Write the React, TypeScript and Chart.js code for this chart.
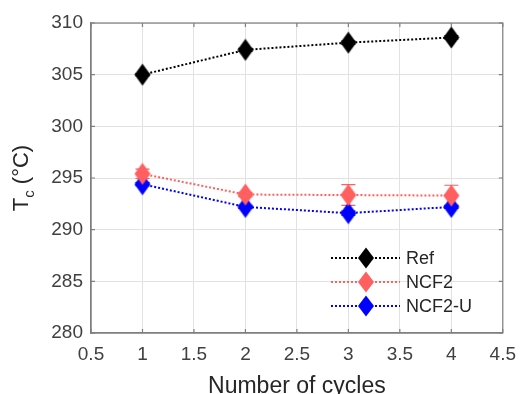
import React, { useEffect, useRef } from "react";
import { Chart, registerables } from "chart.js";

Chart.register(...registerables);

const cycles = [1, 2, 3, 4];
const refValues = [305.0, 307.4, 308.1, 308.6];
const ncf2Values = [295.4, 293.4, 293.35, 293.3];
const ncf2uValues = [294.4, 292.2, 291.6, 292.2];
const refErr = [0.1, 0.15, 0.15, 0.15];
const ncf2Err = [0.45, 0.2, 1.0, 1.0];
const ncf2uErr = [0.15, 0.15, 0.2, 0.15];
const seriesNames = ["Ref", "NCF2", "NCF2-U"];
const seriesColors = ["#000000", "#ff5f5f", "#0000ff"];
const xTickValues = [0.5, 1, 1.5, 2, 2.5, 3, 3.5, 4, 4.5];
const yTickValues = [280, 285, 290, 295, 300, 305, 310];
const xTitle = "Number of cycles";

const FONT = "'Liberation Sans', Arial, Helvetica, sans-serif";
const TEXT = "#404040";
const AXIS = "#7f7f7f";

const errorsFor = [refErr, ncf2Err, ncf2uErr];

const decorPlugin = {
  id: "decor",
  beforeDatasetsDraw(chart: any) {
    const ctx = chart.ctx;
    const xs = chart.scales.x;
    const ys = chart.scales.y;
    ctx.save();
    chart.data.datasets.forEach((ds: any, i: number) => {
      const errs = errorsFor[i];
      ctx.strokeStyle = ds.borderColor;
      ctx.lineWidth = 1.2;
      ds.data.forEach((p: any, j: number) => {
        const px = xs.getPixelForValue(p.x);
        const top = ys.getPixelForValue(p.y + errs[j]);
        const bot = ys.getPixelForValue(p.y - errs[j]);
        ctx.beginPath();
        ctx.moveTo(px, top);
        ctx.lineTo(px, bot);
        ctx.moveTo(px - 7, top);
        ctx.lineTo(px + 7, top);
        ctx.moveTo(px - 7, bot);
        ctx.lineTo(px + 7, bot);
        ctx.stroke();
      });
    });
    ctx.restore();
  },
  afterDraw(chart: any) {
    const ctx = chart.ctx;
    const a = chart.chartArea;
    const xs = chart.scales.x;
    const ys = chart.scales.y;
    ctx.save();
    ctx.strokeStyle = AXIS;
    ctx.lineWidth = 1.2;
    ctx.strokeRect(a.left, a.top, a.right - a.left, a.bottom - a.top);
    ctx.beginPath();
    xTickValues.forEach((v) => {
      const px = xs.getPixelForValue(v);
      ctx.moveTo(px, a.bottom);
      ctx.lineTo(px, a.bottom - 4);
      ctx.moveTo(px, a.top);
      ctx.lineTo(px, a.top + 4);
    });
    yTickValues.forEach((v) => {
      const py = ys.getPixelForValue(v);
      ctx.moveTo(a.left, py);
      ctx.lineTo(a.left + 4, py);
      ctx.moveTo(a.right, py);
      ctx.lineTo(a.right - 4, py);
    });
    ctx.stroke();

    ctx.fillStyle = "#262626";
    ctx.translate(28, (a.top + a.bottom) / 2);
    ctx.rotate(-Math.PI / 2);
    ctx.textBaseline = "alphabetic";
    const big = `22px ${FONT}`;
    const small = `15px ${FONT}`;
    ctx.font = big;
    const wT = ctx.measureText("T").width;
    const wRest = ctx.measureText(" (°C)").width;
    ctx.font = small;
    const wc = ctx.measureText("c").width;
    let x0 = -(wT + wc + wRest) / 2;
    ctx.font = big;
    ctx.fillText("T", x0, 0);
    x0 += wT;
    ctx.font = small;
    ctx.fillText("c", x0, 6);
    x0 += wc;
    ctx.font = big;
    ctx.fillText(" (°C)", x0, 0);
    ctx.setTransform(1, 0, 0, 1, 0, 0);

    ctx.font = `23px ${FONT}`;
    ctx.textAlign = "center";
    ctx.textBaseline = "alphabetic";
    ctx.fillText(xTitle, (a.left + a.right) / 2, 393);

    const rowY = [258, 282, 306];
    ctx.textAlign = "left";
    ctx.textBaseline = "middle";
    ctx.font = `18px ${FONT}`;
    seriesNames.forEach((name, i) => {
      const y = rowY[i];
      ctx.strokeStyle = seriesColors[i];
      ctx.lineWidth = 2;
      ctx.setLineDash([2, 2]);
      ctx.beginPath();
      ctx.moveTo(331, y);
      ctx.lineTo(400, y);
      ctx.stroke();
      ctx.setLineDash([]);
      ctx.fillStyle = seriesColors[i];
      ctx.beginPath();
      ctx.moveTo(366, y - 10.5);
      ctx.lineTo(374, y);
      ctx.lineTo(366, y + 10.5);
      ctx.lineTo(358, y);
      ctx.closePath();
      ctx.fill();
      ctx.fillStyle = "#262626";
      ctx.fillText(name, 406, y + 1);
    });
    ctx.restore();
  },
};

function makeDiamond(color: string) {
  const c = document.createElement("canvas");
  c.width = 18;
  c.height = 23;
  const g = c.getContext("2d")!;
  g.fillStyle = color;
  g.beginPath();
  g.moveTo(9, 0.5);
  g.lineTo(17, 11.5);
  g.lineTo(9, 22.5);
  g.lineTo(1, 11.5);
  g.closePath();
  g.fill();
  return c;
}

export default function App() {
  const ref = useRef<HTMLCanvasElement | null>(null);
  useEffect(() => {
    if (!ref.current) return;
    const values = [refValues, ncf2Values, ncf2uValues];
    const chart = new Chart(ref.current, {
      type: "line",
      data: {
        datasets: seriesNames.map((name, i) => ({
          label: name,
          data: cycles.map((c, j) => ({ x: c, y: values[i][j] })),
          borderColor: seriesColors[i],
          backgroundColor: seriesColors[i],
          borderWidth: 2,
          borderDash: [2, 2],
          pointStyle: makeDiamond(seriesColors[i]) as any,
          pointRadius: 9,
          pointHoverRadius: 9,
          fill: false,
          tension: 0,
        })),
      },
      options: {
        animation: false,
        responsive: true,
        maintainAspectRatio: false,
        layout: { padding: { top: 23, right: 18, left: 0, bottom: 0 } },
        plugins: { legend: { display: false }, tooltip: { enabled: false } },
        events: [],
        scales: {
          x: {
            type: "linear",
            min: 0.5,
            max: 4.5,
            afterFit: (s: any) => {
              s.height = 61;
            },
            afterBuildTicks: (s: any) => {
              s.ticks = xTickValues.map((v) => ({ value: v }));
            },
            ticks: {
              callback: (v: any) => String(v),
              font: { family: FONT, size: 19 },
              color: TEXT,
              padding: 10,
              maxRotation: 0,
              autoSkip: false,
            },
            grid: { color: "#e2e2e2", drawTicks: false, lineWidth: 1 },
            border: { display: true, color: AXIS, width: 1.2 },
          },
          y: {
            type: "linear",
            min: 280,
            max: 310,
            afterFit: (s: any) => {
              s.width = 91;
            },
            afterBuildTicks: (s: any) => {
              s.ticks = yTickValues.map((v) => ({ value: v }));
            },
            ticks: {
              callback: (v: any) => String(v),
              font: { family: FONT, size: 19 },
              color: TEXT,
              padding: 8,
              autoSkip: false,
            },
            grid: { color: "#e2e2e2", drawTicks: false, lineWidth: 1 },
            border: { display: true, color: AXIS, width: 1.2 },
          },
        },
      },
      plugins: [decorPlugin],
    });
    return () => chart.destroy();
  }, []);
  return (
    <div style={{ position: "fixed", left: 0, top: 0, width: 526, height: 394, background: "#fff" }}>
      <canvas ref={ref} />
    </div>
  );
}
